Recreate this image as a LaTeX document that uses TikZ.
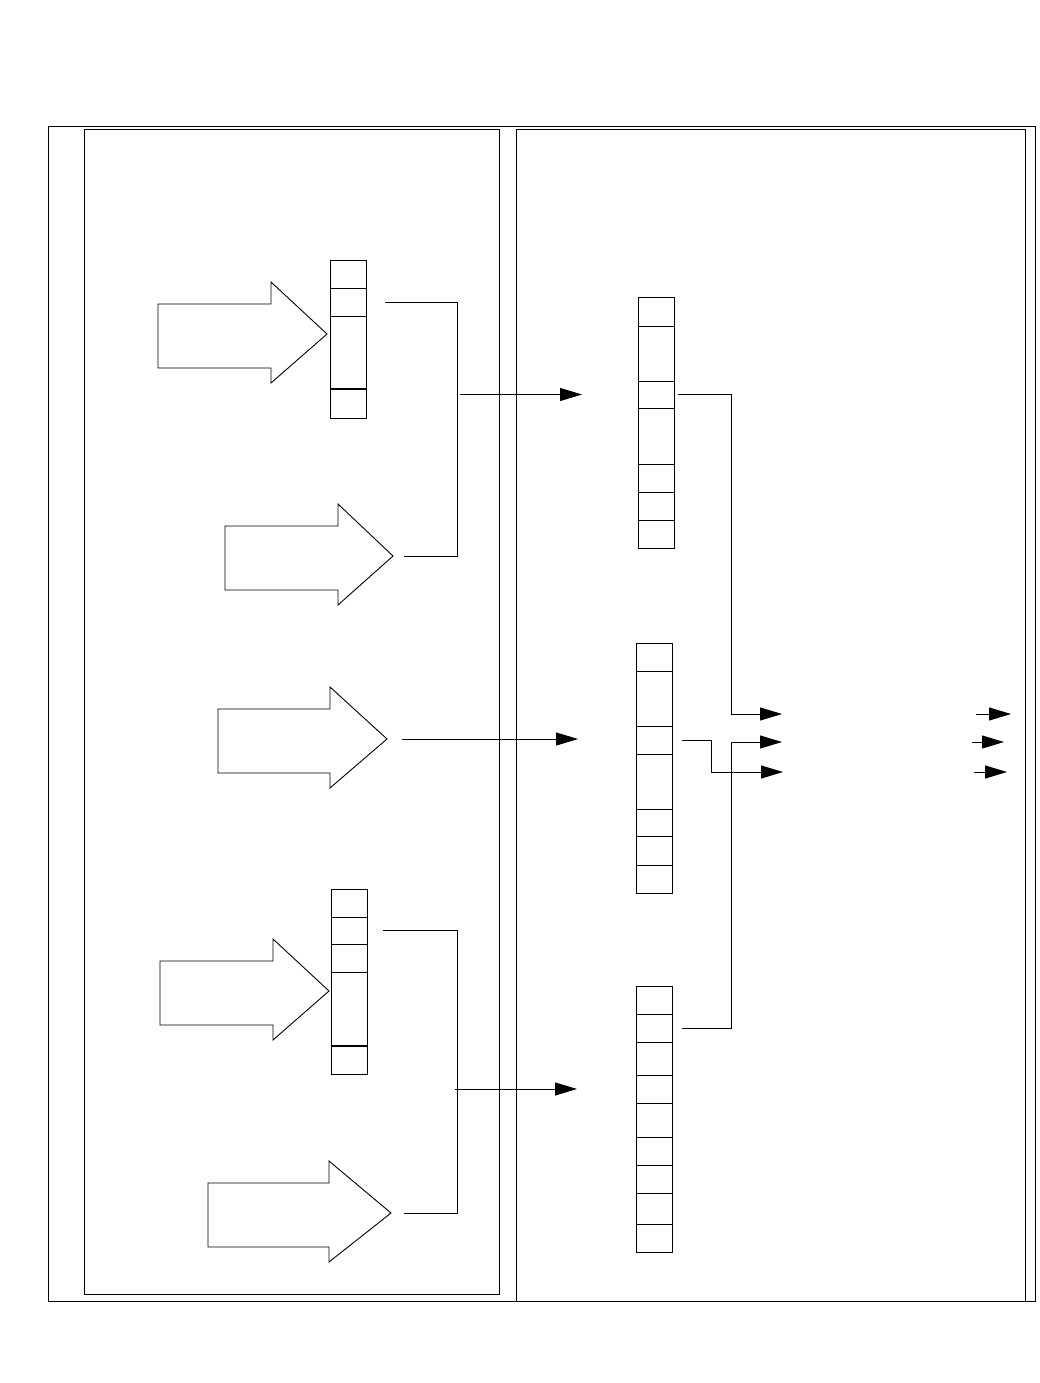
\documentclass[tikz,border=0pt]{standalone}
\usepackage{tikz}
\usetikzlibrary{arrows.meta, positioning}

% pile de cases : nom, point haut, hauteurs
\newcommand{\pile}[3]{%
	\foreach \h [count=\i, remember=\i as \j (initially 0)] in {#3}{
		\ifnum\i=1
			\node[case, minimum height=\h, anchor=north] (#1-\i) at #2 {};
		\else
			\node[case, minimum height=\h, below=0pt of #1-\j] (#1-\i) {};
		\fi
	}
}

% grosse fleche : nom, gauche, encoche, pointe, milieu
\newcommand{\grossefleche}[5]{%
	\draw[contour] (#2,#5-30) -- (#3,#5-30) -- (#3,#5-52) -- (#4,#5)
		-- (#3,#5+49) -- (#3,#5+34) -- (#2,#5+34) -- cycle;
	\coordinate (#1) at (#4,#5);
}

\begin{document}
\begin{tikzpicture}[
				x=1pt, y=-1pt,
				% Styles
				cadre/.style={draw=black, line width=1pt},
				case/.style={draw=black, fill=white, line width=1pt, minimum width=36pt, inner sep=0pt, outer sep=0pt},
				contour/.style={draw=black, line width=0.9pt, line join=miter},
				liaison/.style={draw=black, line width=1pt},
				fleche/.style={-{Triangle[length=22pt, width=13pt]}, line width=1pt},
				separation/.style={line width=2.2pt},
				]
				
				\useasboundingbox (0,0) rectangle (1039,1383);
				
				% Cadres
				\draw[cadre] (48,127) rectangle (1035,1301);
				\draw[cadre] (84,130) rectangle (499,1294);
				\draw[cadre] (516,130) rectangle (1025,1301);
				
				
				% Piles de gauche
				\pile{gA}{(348,260)}{28,28,73,29}
				\pile{gB}{(349,889)}{28,27,28,74,28}
				\draw[separation] (gA-3.south west) -- (gA-3.south east);
				\draw[separation] (gB-4.south west) -- (gB-4.south east);
				
				% Piles de droite
				\pile{dA}{(656,297)}{29,55,27,56,28,28,28}
				\pile{dB}{(654,643)}{28,55,28,55,27,29,28}
				\pile{dC}{(654,986)}{28,28,33,28,34,28,28,31,28}
				
				
				% Grosses fleches
				\grossefleche{f1}{158}{271}{327}{334}
				\grossefleche{f2}{225}{338}{393}{556}
				\grossefleche{f3}{218}{330}{387}{739}
				\grossefleche{f4}{160}{273}{329}{991}
				\grossefleche{f5}{208}{329}{391}{1213}
				
				
				\coordinate (b1) at (457,0);
				\coordinate (b2) at (457,0);
				\coordinate (b3) at (731,0);
				\coordinate (b4) at (711,0);
				
				
				\draw[liaison] ([xshift=19pt]gA-2.east) -| (b1 |- f2) -- ([xshift=11pt]f2);
				\draw[fleche] ([xshift=3pt]b1 |- dA-3.west) -- ([xshift=-56pt]dA-3.west);
				
				\draw[fleche] ([xshift=15pt]f3) -- ([xshift=-58pt]f3 -| dB-3.west);
				
				\draw[liaison] ([xshift=16pt]gB-2.east) -| (b2 |- f5) -- ([xshift=13pt]f5);
				\draw[fleche] ([xshift=-2pt]b2 |- dC-4.west) -- ([xshift=-59pt]dC-4.west);
				
				
				% Sorties
				\coordinate (s1) at (782,714);
				\coordinate (s2) at (782,742);
				\coordinate (s3) at (783,772);
				
				\draw[fleche] ([xshift=4pt]dA-3.east) -| (b3 |- s1) -- (s1);
				\draw[fleche] ([xshift=10pt]dB-3.east) -| (b4 |- s3) -- (s3);
				\draw[fleche] ([xshift=10pt]dC-2.east) -| (b3 |- s2) -- (s2);
				
				
				\coordinate (t1a) at (976,714);
				\coordinate (t1b) at (1011,714);
				\coordinate (t2a) at (972,742);
				\coordinate (t2b) at (1004,742);
				\coordinate (t3a) at (974,772);
				\coordinate (t3b) at (1007,772);
				
				\draw[fleche] (t1a) -- (t1b);
				\draw[fleche] (t2a) -- (t2b);
				\draw[fleche] (t3a) -- (t3b);
			\end{tikzpicture}
\end{document}
